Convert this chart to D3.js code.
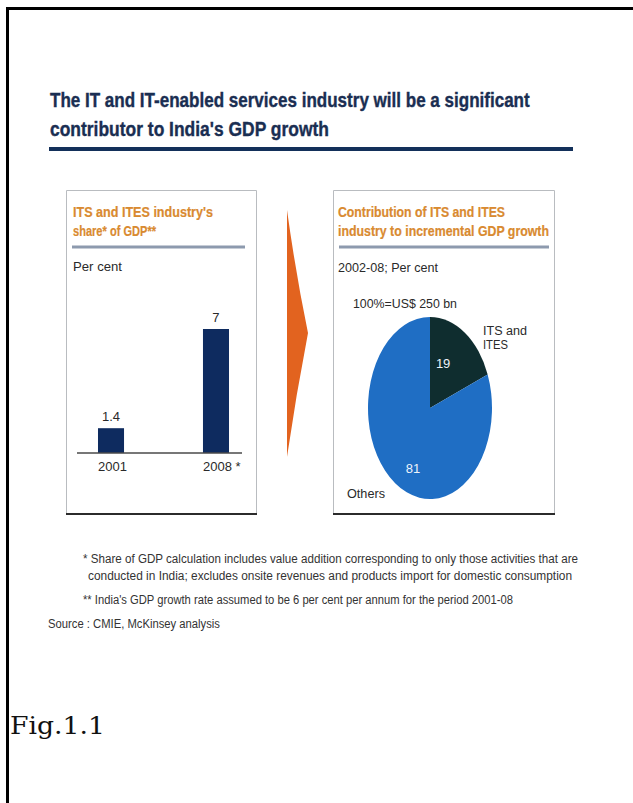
<!DOCTYPE html>
<html>
<head>
<meta charset="utf-8">
<script src="https://cdn.jsdelivr.net/npm/d3@7/dist/d3.min.js"></script>
<style>
  html, body { margin: 0; padding: 0; background: #fff; }
  svg { display: block; }
  .narrow { font-family: "Liberation Sans Narrow", "Liberation Sans", Arial, sans-serif; }
</style>
</head>
<body>
<svg id="chart" width="633" height="803"></svg>
<script>
// ---- data ----
const titleLines = [
  "The IT and IT-enabled services industry will be a significant",
  "contributor to India's GDP growth"
];
const barTitle = ["ITS and ITES industry's", "share* of GDP**"];
const barUnit = "Per cent";
const barCategories = ["2001", "2008 *"];
const barValues = [1.4, 7];
const barValueLabels = ["1.4", "7"];

const pieTitle = ["Contribution of ITS and ITES", "industry to incremental GDP growth"];
const pieUnit = "2002-08; Per cent";
const pieTotal = "100%=US$ 250 bn";
const pieCategories = ["ITS and ITES", "Others"];
const pieLabelLines = [["ITS and", "ITES"], ["Others"]];
const pieValues = [19, 81];

const footnotes = [
  "* Share of GDP calculation includes value addition corresponding to only those activities that are",
  "conducted in India; excludes onsite revenues and products import for domestic consumption",
  "** India's GDP growth rate assumed to be 6 per cent per annum for the period 2001-08",
  "Source : CMIE, McKinsey analysis"
];
const figLabel = "Fig.1.1";

// ---- palette ----
const navy = "#1a2e52";
const orange = "#d98a30";
const ruleGray = "#8d9aae";
const barColor = "#0e2b5f";
const pieColors = ["#0f2d2f", "#1f6ec4"];
const textDark = "#2a2a2a";

const svg = d3.select("#chart");

// squeeze a text horizontally to a given width (condensed look)
function squeeze(textSel, x0, y0, width) {
  const natural = textSel.node().getComputedTextLength();
  const k = width / natural;
  textSel.attr("x", 0).attr("y", 0)
    .attr("transform", `translate(${x0},${y0}) scale(${k},1)`);
}

// frame (top and left edges)
svg.append("line").attr("x1", 6).attr("x2", 633).attr("y1", 8.5).attr("y2", 8.5)
  .attr("stroke", "#000").attr("stroke-width", 3);
svg.append("line").attr("x1", 7.5).attr("x2", 7.5).attr("y1", 7).attr("y2", 803)
  .attr("stroke", "#000").attr("stroke-width", 3);

// headline
const titleWidths = [480, 279];
const titleBase = [107, 136];
titleLines.forEach((t, i) => {
  const tx = svg.append("text").attr("class", "narrow")
    .attr("font-size", 21).attr("font-weight", "bold").attr("fill", navy)
    .attr("stroke", navy).attr("stroke-width", 0.4)
    .text(t);
  squeeze(tx, 50, titleBase[i], titleWidths[i]);
});
svg.append("rect").attr("x", 49).attr("y", 147).attr("width", 524).attr("height", 4).attr("fill", "#13305a");

// panel frames
function panel(x0, x1) {
  const y0 = 190, y1 = 514;
  const g = svg.append("g");
  g.append("path")
    .attr("d", `M${x0 + 0.5},${y1} V${y0 + 0.5} H${x1 - 0.5} V${y1}`)
    .attr("fill", "none").attr("stroke", "#b9bcc0").attr("stroke-width", 1);
  g.append("line").attr("x1", x0).attr("x2", x1).attr("y1", y1).attr("y2", y1)
    .attr("stroke", "#2b2b2b").attr("stroke-width", 2);
  return g;
}
panel(66, 257);
panel(333, 555);

// panel headers
function header(lines, widths, x, ruleX0, ruleX1) {
  lines.forEach((t, i) => {
    svg.append("text").attr("class", "narrow")
      .attr("x", x).attr("y", 217 + i * 19)
      .attr("font-size", 14).attr("font-weight", "bold").attr("fill", orange)
      .attr("stroke", orange).attr("stroke-width", 0.2)
      .attr("textLength", widths[i]).attr("lengthAdjust", "spacingAndGlyphs")
      .text(t);
  });
  svg.append("rect").attr("x", ruleX0).attr("y", 245.5).attr("width", ruleX1 - ruleX0).attr("height", 3)
    .attr("fill", ruleGray);
}
header(barTitle, [140, 83], 73, 72, 245);
header(pieTitle, [167, 211], 338, 339, 549);

// ---- bar chart ----
svg.append("text").attr("class", "narrow").attr("x", 73).attr("y", 271)
  .attr("font-size", 13).attr("fill", textDark)
  .attr("textLength", 49).attr("lengthAdjust", "spacingAndGlyphs").text(barUnit);

const x = d3.scaleBand().domain(barCategories).range([72, 255])
  .paddingInner(0.752).paddingOuter(0.2476);
const y = d3.scaleLinear().domain([0, 7]).range([453, 329]);

const bars = barCategories.map((c, i) => ({ c, v: barValues[i], label: barValueLabels[i] }));

svg.append("g").selectAll("rect").data(bars).join("rect")
  .attr("x", d => x(d.c)).attr("width", x.bandwidth())
  .attr("y", d => y(d.v)).attr("height", d => y(0) - y(d.v))
  .attr("fill", barColor);

svg.append("line").attr("x1", 77).attr("x2", 242).attr("y1", y(0)).attr("y2", y(0))
  .attr("stroke", "#4a4a4a").attr("stroke-width", 1.5);

svg.append("g").selectAll("text").data(bars).join("text").attr("class", "narrow")
  .attr("x", d => x(d.c) + x.bandwidth() / 2).attr("y", d => y(d.v) - 7)
  .attr("text-anchor", "middle").attr("font-size", 13).attr("fill", textDark)
  .text(d => d.label);

svg.append("g").selectAll("text").data(bars).join("text").attr("class", "narrow")
  .attr("x", d => x(d.c)).attr("y", y(0) + 18)
  .attr("font-size", 13).attr("fill", textDark)
  .text(d => d.c);

// ---- arrow between panels ----
svg.append("path").attr("d", "M287,210 Q296,275 308,333 Q296,395 287,457 Z").attr("fill", "#e2631f");

// ---- pie chart ----
svg.append("text").attr("class", "narrow").attr("x", 338).attr("y", 272)
  .attr("font-size", 13).attr("fill", textDark)
  .attr("textLength", 100).attr("lengthAdjust", "spacingAndGlyphs").text(pieUnit);
svg.append("text").attr("class", "narrow").attr("x", 353).attr("y", 308)
  .attr("font-size", 13).attr("fill", textDark)
  .attr("textLength", 104).attr("lengthAdjust", "spacingAndGlyphs").text(pieTotal);

const cx = 430, cy = 408, rx = 62, ry = 91, R = 100;
const pie = d3.pie().sort(null).value(d => d.v);
const slices = pie(pieCategories.map((c, i) => ({ c, v: pieValues[i] })));
const arc = d3.arc().innerRadius(0).outerRadius(R);

const pg = svg.append("g").attr("transform", `translate(${cx},${cy})`);
pg.append("g").attr("transform", `scale(${rx / R},${ry / R})`)
  .selectAll("path").data(slices).join("path")
  .attr("d", arc).attr("fill", (d, i) => pieColors[i]);

// value labels inside slices, placed on the stretched ellipse
const labelR = [0.49, 0.765];
const labelShift = [-0.15, -0.23]; // angular nudge (radians) from each slice's mid-angle
pg.selectAll("text.val").data(slices).join("text").attr("class", "val narrow")
  .attr("x", (d, i) => {
    const a = (d.startAngle + d.endAngle) / 2 + labelShift[i];
    return Math.sin(a) * rx * labelR[i];
  })
  .attr("y", (d, i) => {
    const a = (d.startAngle + d.endAngle) / 2 + labelShift[i];
    return -Math.cos(a) * ry * labelR[i];
  })
  .attr("text-anchor", "middle").attr("font-size", 13).attr("fill", "#eef3fa")
  .text(d => d.data.v);

// category labels
pieLabelLines[0].forEach((t, i) => {
  svg.append("text").attr("class", "narrow").attr("x", 483).attr("y", 335 + i * 14)
    .attr("font-size", 12.5).attr("fill", textDark)
    .attr("textLength", i === 0 ? 44 : 25).attr("lengthAdjust", "spacingAndGlyphs")
    .text(t);
});
svg.append("text").attr("class", "narrow").attr("x", 347).attr("y", 498)
  .attr("font-size", 13).attr("fill", textDark)
  .attr("textLength", 38).attr("lengthAdjust", "spacingAndGlyphs")
  .text(pieLabelLines[1][0]);

// ---- footnotes ----
const fnX = [83, 88, 83, 48];
const fnY = [563, 580, 604, 628];
const fnW = [495, 484, 430, 172];
footnotes.forEach((t, i) => {
  svg.append("text").attr("class", "narrow")
    .attr("x", fnX[i]).attr("y", fnY[i])
    .attr("font-size", 12).attr("fill", "#333")
    .attr("textLength", fnW[i]).attr("lengthAdjust", "spacingAndGlyphs")
    .text(t);
});

// figure caption
svg.append("text").attr("x", 10).attr("y", 734)
  .attr("font-family", "'DejaVu Serif', 'Liberation Serif', serif")
  .attr("font-size", 25).attr("fill", "#111")
  .attr("textLength", 95).attr("lengthAdjust", "spacingAndGlyphs")
  .text(figLabel);
</script>
</body>
</html>
